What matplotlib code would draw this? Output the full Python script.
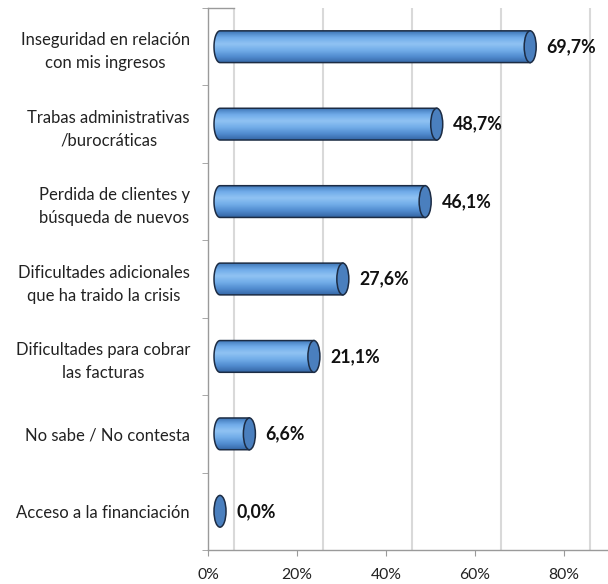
import matplotlib.pyplot as plt
import numpy as np
from matplotlib.patches import Ellipse, PathPatch
from matplotlib.path import Path
from matplotlib.colors import LinearSegmentedColormap

categories = ["Inseguridad en relación\ncon mis ingresos",
              "Trabas administrativas\n/burocráticas",
              "Perdida de clientes y\nbúsqueda de nuevos",
              "Dificultades adicionales\nque ha traido la crisis",
              "Dificultades para cobrar\nlas facturas",
              "No sabe / No contesta",
              "Acceso a la financiación"]
values = [69.7, 48.7, 46.1, 27.6, 21.1, 6.6, 0.0]
labels = ["69,7%", "48,7%", "46,1%", "27,6%", "21,1%", "6,6%", "0,0%"]
xticks = [0, 20, 40, 60, 80]

plt.rcParams['font.family'] = ['Lato', 'DejaVu Sans']

fig = plt.figure(figsize=(6.08, 5.84), dpi=100)
ax = fig.add_axes([208 / 608, 34 / 584, 400 / 608, 542 / 584])
xmax = 400 / 4.45
ax.set_xlim(0, xmax)
ax.set_ylim(len(categories) - 0.5, -0.5)

depth = 5.84   # back wall offset (in %)
off = 2.7      # cylinder centre offset
h = 0.41       # bar thickness in category units
capw = 2.7     # end cap width in %

# back wall gridlines
for t in xticks:
    ax.axvline(t + depth, color='#d9d9d9', lw=1.5, zorder=0)
ax.plot([0, depth], [-0.5, -0.5], color='#9a9a9a', lw=1, clip_on=False, zorder=1)

cmap = LinearSegmentedColormap.from_list(
    'cyl', ['#3f77b8', '#70abe9', '#90c3f3', '#72ade9', '#528dd0', '#3567a6'])
grad = np.linspace(0, 1, 100).reshape(-1, 1)

for i, v in enumerate(values):
    x0 = off
    x1 = off + v
    if v > 0:
        # body = rectangle + left half ellipse
        th = np.linspace(np.pi / 2, 3 * np.pi / 2, 30)
        lx = x0 + capw / 2 * np.cos(th)
        ly = i - h / 2 * np.sin(th)
        verts = [(x1, i - h / 2)] + [(x0, i - h / 2)] + list(zip(lx, ly)) + [(x1, i + h / 2), (x1, i - h / 2)]
        codes = [Path.MOVETO] + [Path.LINETO] * (len(verts) - 2) + [Path.CLOSEPOLY]
        body = PathPatch(Path(verts, codes), facecolor='none', edgecolor='#1c2c44', lw=1.1, zorder=3)
        ax.add_patch(body)
        im = ax.imshow(grad, cmap=cmap, aspect='auto', extent=(x0 - capw, x1, i + h / 2, i - h / 2),
                       zorder=2, interpolation='bicubic')
        im.set_clip_path(body)
    cap = Ellipse((x1, i), capw, h, facecolor='#4a7fbe', edgecolor='#1c2c44', lw=1.1, zorder=4)
    ax.add_patch(cap)
    ax.text(x1 + capw / 2 + 2.3, i, labels[i], ha='left', va='center',
            fontsize=12.8, fontweight='bold', color='#111111', zorder=5)

for s in ['top', 'right']:
    ax.spines[s].set_visible(False)
for s in ['left', 'bottom']:
    ax.spines[s].set_color('#9a9a9a')
    ax.spines[s].set_linewidth(1)

ax.set_xticks(xticks)
ax.set_xticklabels([f"{t}%" for t in xticks], fontsize=11.3, color='#222222')
ax.set_yticks(np.arange(-0.5, len(categories), 1), minor=True)
ax.set_yticks(range(len(categories)))
ax.set_yticklabels(categories, fontsize=12, color='#222222', multialignment='center',
                   linespacing=1.55)
ax.tick_params(axis='y', which='major', length=0, pad=13)
ax.tick_params(axis='y', which='minor', length=4, color='#9a9a9a')
ax.tick_params(axis='x', length=4, color='#9a9a9a', pad=9)

plt.savefig('out.png', dpi=100)
